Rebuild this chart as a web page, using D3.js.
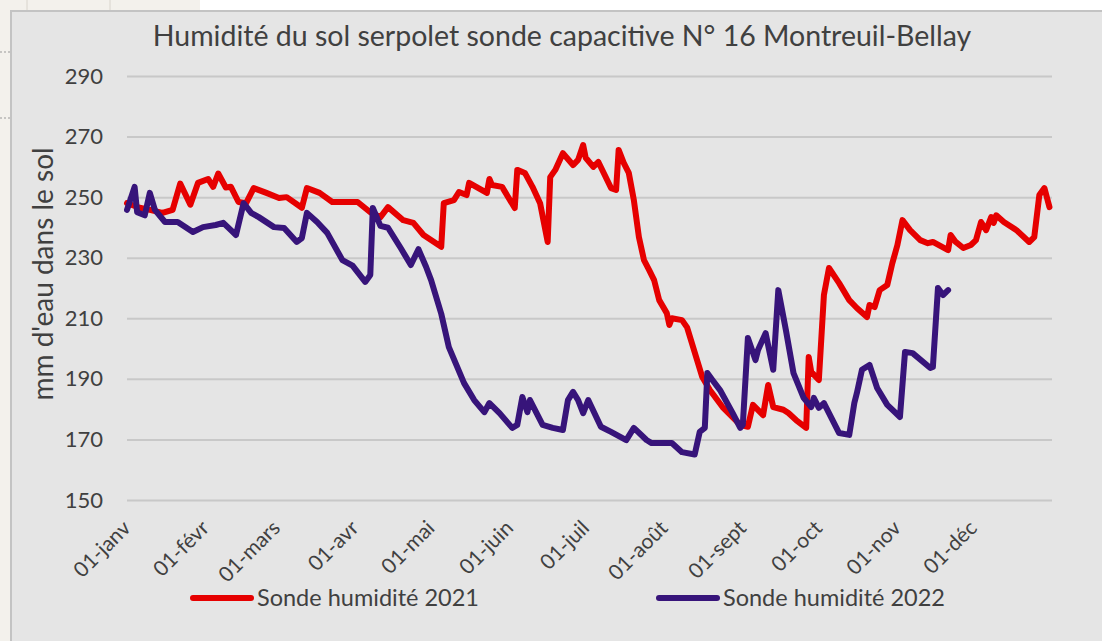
<!doctype html>
<html lang="fr">
  <head>
    <meta charset="utf-8">
    <title>Humidité du sol serpolet</title>
    <style>
      body {
        margin: 0;
        background: #fff;
      }
      svg text {
        font-family: Lato, "Liberation Sans", sans-serif;
        fill: #404040;
      }
    </style>
  </head>
  <body>
    <div id="chart"></div>

    <script src="https://cdn.jsdelivr.net/npm/d3@7"></script>
    <script>
      // jour de l'année (0 = 1er janvier) et mm d'eau
      const days2021 = [0, 5, 9, 14, 18, 21, 25, 28, 32, 34, 36, 39, 41, 44, 47, 50, 55, 60, 63, 69,
        71, 76, 81, 91, 96, 100, 103, 109, 113, 117, 124, 125, 129, 131, 134, 135, 142, 143, 144, 148,
        153, 154, 157, 160, 163, 166, 167, 169, 172, 176, 178, 180, 181, 184, 186, 191, 193, 194, 196, 198,
        200, 202, 204, 206, 208, 210, 213, 214, 215, 219, 221, 227, 230, 235, 242, 245, 247, 251, 253, 255,
        259, 261, 264, 268, 269, 270, 273, 275, 277, 281, 285, 288, 292, 293, 295, 297, 300, 302, 304, 306,
        309, 313, 316, 318, 324, 325, 327, 330, 333, 335, 337, 339, 341, 342, 343, 346, 351, 356, 358, 360,
        362, 364]
      const hum2021 = [248, 246.5, 245.8, 244.8, 245.8, 254.5, 247.5, 254.7, 256, 253.4, 257.8, 253.2, 253.4, 248.4, 248, 253, 251.4, 249.7, 250, 246.5,
        253, 251.4, 248.4, 248.4, 245, 243.4, 246.7, 242.4, 241.5, 237.5, 233.6, 248, 249, 251.7, 250.7, 254.7, 251.4, 256, 254, 253.4,
        246.4, 259, 258, 253.4, 248, 235.2, 256.6, 259, 264.5, 260.6, 262.3, 267.2, 263, 260, 261.6, 253, 252.4, 265.6, 261.3, 258,
        249, 236.8, 229.2, 226, 222.6, 216, 211.7, 207.8, 210, 209.4, 207, 190.6, 186.3, 180.7, 174.8, 174.2, 181.4, 178, 188, 180.7,
        179.8, 178.7, 176.4, 173.8, 197.2, 192.3, 189.6, 217.7, 226.6, 221.6, 216, 213.4, 210.4, 214.4, 213.7, 219.3, 221, 228.2, 234.2, 242.4,
        239.1, 235.8, 234.8, 235.2, 232.5, 237.5, 235.2, 233.2, 234.2, 235.8, 241.8, 239.1, 243.4, 241.5, 244, 241.8, 239.1, 235.2, 236.8, 250.7,
        253, 246.7]

      const days2022 = [0, 3, 4, 7, 9, 11, 15, 20, 26, 30, 35, 38, 41, 43, 46, 49, 52, 58, 62, 67,
        69, 71, 75, 79, 85, 89, 94, 96, 97, 100, 103, 108, 112, 115, 118, 120, 124, 127, 133, 137,
        141, 143, 147, 152, 154, 156, 158, 159, 164, 168, 172, 174, 176, 178, 180, 182, 187, 191, 197, 200,
        205, 207, 215, 219, 224, 226, 228, 229, 231, 234, 239, 242, 243, 245, 248, 249, 252, 255, 257, 260,
        263, 267, 270, 271, 273, 275, 281, 285, 287, 288, 290, 293, 296, 300, 305, 307, 310, 317, 318, 320,
        322, 324]
      const hum2022 = [245.8, 253.4, 245, 244, 251.4, 245.8, 241.8, 241.8, 238.5, 240.1, 240.8, 241.5, 239.1, 237.5, 248, 244.8, 243.4, 240.1, 239.8, 235.2,
        236.5, 244.8, 241.8, 238.2, 229.2, 227.4, 222, 224.3, 246.4, 240.5, 239.9, 233.2, 227.6, 232.8, 227, 222.6, 211.5, 200.5, 188.6, 183,
        179, 182, 178.7, 173.8, 174.8, 184, 179, 183, 174.8, 173.8, 173.1, 183, 185.7, 183, 178.7, 183, 174.2, 172.5, 169.8, 173.8,
        169.8, 168.8, 168.8, 165.8, 165, 172.5, 173.8, 191.9, 189.6, 186.3, 178.7, 173.8, 174.8, 203.5, 196.2, 199.5, 205.1, 193, 219.3, 206.1,
        191.9, 183.7, 180.7, 183.7, 180.4, 182, 172.1, 171.5, 182, 185.3, 193, 194.6, 187, 181.4, 177.4, 198.9, 198.5, 193.6, 193.9, 220,
        217.7, 219.3]

      const monthLabels = ['01-janv', '01-févr', '01-mars', '01-avr', '01-mai', '01-juin',
        '01-juil', '01-août', '01-sept', '01-oct', '01-nov', '01-déc']
      const yTicks = [150, 170, 190, 210, 230, 250, 270, 290]
      const seriesNames = ['Sonde humidité 2021', 'Sonde humidité 2022']
      const colors = ['#e60000', '#37147a']

      const width = 1102
      const height = 641
      const start = new Date(2021, 0, 1)
      const toDate = d => d3.timeDay.offset(start, d)

      const svg = d3.select('#chart')
        .append('svg')
          .attr('width', width)
          .attr('height', height)

      // bout de tableur visible derrière le graphique
      svg.append('rect')
        .attr('width', 200).attr('height', height)
        .attr('fill', '#f3f1ec')
      svg.append('line')
        .attr('x1', 27).attr('x2', 27).attr('y1', 0).attr('y2', 12)
        .attr('stroke', '#d8d4cc')
      svg.append('line')
        .attr('x1', 110).attr('x2', 110).attr('y1', 0).attr('y2', 12)
        .attr('stroke', '#d8d4cc')
      svg.append('line')
        .attr('x1', 0).attr('x2', 12).attr('y1', 52).attr('y2', 52)
        .attr('stroke', '#999').attr('stroke-dasharray', '2,2')
      svg.append('line')
        .attr('x1', 0).attr('x2', 12).attr('y1', 118).attr('y2', 118)
        .attr('stroke', '#999').attr('stroke-dasharray', '2,2')

      // zone du graphique
      svg.append('rect')
        .attr('x', 11).attr('y', 11)
        .attr('width', width).attr('height', height)
        .attr('fill', '#e5e5e5')
        .attr('stroke', '#c3c3c3')
        .attr('stroke-width', 2)

      const x = d3.scaleTime()
        .domain([start, new Date(2022, 0, 1)])
        .range([127, 1052])
      const y = d3.scaleLinear()
        .domain([150, 290])
        .range([500, 76])

      const yAxis = d3.axisLeft(y)
        .tickValues(yTicks)
        .tickSize(-(1052 - 127))
        .tickPadding(24)
      const gy = svg.append('g')
        .attr('transform', 'translate(127, 0)')
        .call(yAxis)
      gy.select('.domain').remove()
      gy.selectAll('line').attr('stroke', '#c8c8c8').attr('stroke-width', 2)
      gy.selectAll('text')
        .attr('font-size', 22)
        .style('font-family', 'Lato, sans-serif')
        .attr('fill', '#404040')

      const xAxis = d3.axisBottom(x)
        .tickValues(d3.range(12).map(m => new Date(2021, m, 1)))
        .tickFormat((d, i) => monthLabels[i])
        .tickSize(0)
      const gx = svg.append('g')
        .attr('transform', 'translate(0, 500)')
        .call(xAxis)
      gx.select('.domain').remove()
      gx.selectAll('text')
        .attr('font-size', 21)
        .style('font-family', 'Lato, sans-serif')
        .attr('fill', '#404040')
        .attr('text-anchor', 'end')
        .attr('dy', '0.35em')
        .attr('transform', 'translate(-3, 22) rotate(-45)')

      const line = d3.line()
        .x(d => x(toDate(d[0])))
        .y(d => y(d[1]))

      const series = [
        d3.zip(days2021, hum2021),
        d3.zip(days2022, hum2022)
      ]

      svg.append('g')
        .selectAll('path')
        .data(series)
        .join('path')
          .attr('d', line)
          .attr('fill', 'none')
          .attr('stroke', (d, i) => colors[i])
          .attr('stroke-width', 6)
          .attr('stroke-linejoin', 'round')
          .attr('stroke-linecap', 'round')

      svg.append('text')
        .attr('x', 562)
        .attr('y', 46)
        .attr('text-anchor', 'middle')
        .attr('font-size', 28.5)
        .text('Humidité du sol serpolet sonde capacitive N° 16 Montreuil-Bellay')

      svg.append('text')
        .attr('transform', 'translate(53, 274) rotate(-90)')
        .attr('text-anchor', 'middle')
        .attr('font-size', 28)
        .text("mm d'eau dans le sol")

      const legendX = [193, 659]
      const legend = svg.append('g')
        .selectAll('g')
        .data(seriesNames)
        .join('g')
          .attr('transform', (d, i) => `translate(${legendX[i]}, 598)`)
      legend.append('line')
        .attr('x1', 0).attr('x2', 58)
        .attr('stroke', (d, i) => colors[i])
        .attr('stroke-width', 6)
        .attr('stroke-linecap', 'round')
      legend.append('text')
        .attr('x', 64)
        .attr('dy', '0.35em')
        .attr('font-size', 23.5)
        .text(d => d)
    </script>
  </body>
</html>
